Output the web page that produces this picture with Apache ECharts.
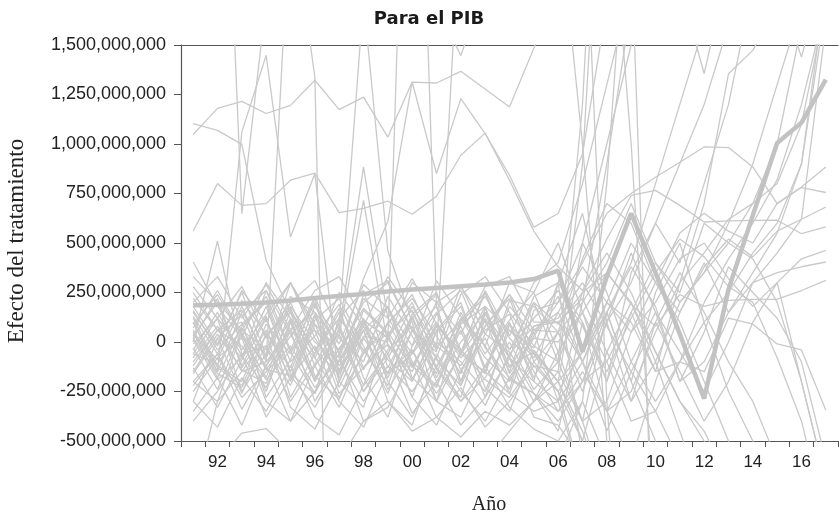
<!DOCTYPE html>
<html>
<head>
<meta charset="utf-8">
<script src="https://cdn.jsdelivr.net/npm/echarts@6/dist/echarts.min.js"></script>
<style>html,body{margin:0;padding:0;background:#fff}#chart{width:839px;height:517px}</style>
</head>
<body>
<div id="chart"></div>
<script>
// Values in millions (multiplied by 1e6 only for the axis labels)
const years = ['1991','1992','1993','1994','1995','1996','1997','1998','1999','2000','2001','2002','2003','2004','2005','2006','2007','2008','2009','2010','2011','2012','2013','2014','2015','2016','2017'];
const treated = [185,188,193,200,210,222,232,243,255,265,273,282,290,300,318,360,-50,330,650,350,40,-286,266,640,1005,1108,1325];

const pA = [1048,1180,1215,1154,1195,1322,1174,1237,1035,1313,1308,1367,1278,1187,1483,1800,2300,2600,2400,2800,3000,2900,3100,3300,3500,3600,3800];
const pB = [1103,1069,998,412,150,-40,-160,110,20,-190,50,180,-130,90,-60,-250,-700,-1000,-1300,-1500,-1700,-1900,-2100,-2300,-2500,-2700,-2900];
const pC = [559,800,690,699,817,853,653,675,711,645,736,943,1055,817,560,380,260,520,740,766,690,606,612,614,615,547,581];
const pD = [-60,-110,70,-140,30,190,-60,320,610,1313,850,1229,1052,842,580,649,950,1700,2200,2600,2800,3000,3200,3400,3500,3600,3700];
const pE = [100,-150,1060,1448,530,850,-200,100,-180,60,-130,120,-80,-200,50,-300,200,900,1700,2200,2600,2800,3000,3200,3300,3400,3500];
const pG = [-150,40,-140,-210,110,-190,60,-140,100,-120,-230,90,180,-160,30,200,400,650,750,832,908,985,982,884,699,783,884];
const pK = [20,220,-130,60,-180,130,-140,80,-160,140,250,-60,-150,210,180,50,-200,-100,150,-150,300,700,1355,1473,1700,1900,2100];
const pV1 = [1900,2100,2300,2500,2600,2700,2800,2900,3000,3100,3200,3300,3400,3500,3600,3200,2500,2000,1800,1700,1800,1355,1900,2200,2400,2500,2600];
const pV2 = [-1000,-1200,-1400,-1600,-1800,-2000,-1800,-1500,-1200,-900,-1100,-1300,-1000,-800,-700,-600,-300,800,2500,3000,3200,3000,2800,2500,1800,1439,1900];
const pS1 = [2800,3600,648,1726,2500,3000,3200,3400,3500,3600,3700,3800,3900,4000,4000,3500,2500,-300,-2000,-3000,-3500,-3500,-3000,-2500,-2000,-1500,-1000];
const pS2 = [-800,-300,-150,-100,2219,1340,-4000,-3000,-2000,-1500,-1000,-800,-600,-450,-300,-150,900,3000,4000,4200,4400,4500,4600,4700,4800,4900,5000];
const pS3 = [-200,-300,50,-250,100,-200,100,1728,461,100,-300,-50,250,-80,-200,300,-600,-2500,-3000,-3200,-3400,-3500,-3600,-3700,-3800,-3900,-4000];
const pS4 = [50,-180,80,200,-150,140,-230,30,0,3950,181,-200,150,-150,200,-100,1200,3500,2000,-1500,-2500,-2800,-3000,-3200,-3400,-3600,-3800];
const pS5 = [180,-10,250,-70,300,20,-160,240,310,60,-50,2230,2500,2800,3000,3000,2800,2500,1000,-1000,-2000,-2500,-2800,-3000,-3200,-3400,-3600];
const pS6 = [1800,2200,2500,2700,2900,2500,2100,1800,1700,1650,1700,1447,1800,2200,2500,2200,1000,-500,-1200,-1500,-1800,-2000,-2200,-2400,-2600,-2800,-3000];
const pL01 = [404,180,20,300,120,-60,250,80,330,150,-40,280,100,-80,230,300,100,-200,150,400,250,600,500,700,800,1100,1700];
const pL02 = [150,-20,260,100,300,60,-80,220,120,-60,200,280,40,240,60,50,420,700,600,300,150,380,520,430,560,620,682];
const pL03 = [120,-120,-200,90,-60,200,-150,60,180,-100,-220,100,230,20,-120,-150,-400,-300,50,200,420,500,320,180,300,420,463];
const pL04 = [90,240,30,-180,160,-40,120,260,-130,120,240,-40,-160,180,40,230,-100,150,380,180,-200,-100,150,300,350,380,404];
const pL05 = [60,-150,150,260,40,-190,70,-220,100,220,30,-160,140,-40,200,90,250,350,190,80,240,180,210,215,216,260,311];
const pL06 = [30,200,-120,120,-200,110,220,-20,-260,60,180,-200,80,240,-60,-200,-50,200,100,-150,-100,-150,120,90,-10,-40,-345];
const pL07 = [0,510,-60,-20,-220,90,-180,160,40,-280,60,200,-150,-260,80,120,300,80,-150,-350,-600,-900,-1200,-1500,-1800,-2000,-2200];
const pL08 = [-30,-240,60,230,-50,-260,120,-40,-220,120,-180,60,-280,90,-200,-300,-700,-1100,-1500,-1800,-2000,-2200,-2400,-2600,-2800,-3000,-3200];
const pL09 = [-60,120,-250,-60,200,-80,-280,-60,180,-180,-300,120,-20,-240,160,200,500,1000,1500,1900,2200,2500,2700,2900,3100,3300,3500];
const pL10 = [-100,60,100,-280,-90,220,-200,-330,40,160,-130,-280,120,-80,-300,-50,150,-100,-400,-350,-100,100,250,450,600,900,1800];
const pL11 = [-130,-330,-90,130,-280,-60,170,-180,-380,-20,150,-140,-320,-60,80,100,-100,-350,-250,50,300,450,620,700,1000,1600,2000];
const pL12 = [-200,-60,-340,-120,60,-300,-90,120,-200,-380,-120,80,-230,-350,-40,-200,-450,-800,-1000,-1200,-1400,-1600,-1800,-2000,-2200,-2400,-2600];
const pL13 = [-250,-80,20,-300,-400,-120,-330,-40,40,-280,-420,-140,20,-260,-350,-300,-100,200,500,300,100,-200,-500,-800,-1000,-1200,-1400];
const pL14 = [-300,-430,-180,-350,-120,-380,-470,-220,-60,-360,-200,-420,-280,-80,-380,-420,-600,-900,-1100,-1300,-1500,-1700,-1900,-2100,-2300,-2500,-2700];
const pL15 = [-350,-180,-420,-120,-400,-250,-60,-400,-330,-100,-380,-230,-430,-300,-120,-250,-50,150,-200,-500,-800,-1000,-1200,-1400,-1600,-1800,-2000];
const pL16 = [200,330,120,290,60,260,330,110,20,300,200,40,280,330,100,100,220,-50,-300,-100,200,350,500,420,200,-200,-700];
const pL17 = [-10,120,280,20,200,310,60,884,120,320,90,-60,260,30,300,400,800,1300,1800,2200,2500,2800,3000,3200,3400,3600,3800];
const pL18 = [70,260,40,-120,120,-200,30,715,-20,-150,140,260,-30,-180,-260,-400,-200,100,300,600,900,1200,1600,2000,2400,2800,3200];
const pL19 = [20,-160,-230,-20,-300,-110,90,-250,-80,130,-140,-300,-120,100,-180,50,200,400,700,400,200,350,600,900,1300,1700,2000];
const pL20 = [-160,20,140,-140,-170,-330,-100,60,-240,-40,-260,-60,110,-190,-260,-350,-200,150,400,800,1200,1600,2000,2400,2800,3200,3600];
const pL21 = [250,60,-80,260,-40,230,-60,200,300,60,-80,240,330,150,-20,-100,-400,-800,-1200,-1600,-2000,-2400,-2800,-3200,-3600,-4000,-4400];
const pL22 = [-400,-250,-60,-380,-180,-20,-300,-430,-150,-40,-300,-380,-120,-330,-440,-500,-300,-600,-900,-1200,-1500,-1800,-2100,-2400,-2700,-3000,-3300];
const pL23 = [-300,20,-260,40,-330,-440,-200,60,-300,-420,-60,-250,-400,-180,20,0,150,350,200,-50,-300,-500,-700,-900,-1100,-1300,-1500];
const pL24 = [100,-130,-220,40,150,-170,-290,20,180,-120,90,-220,170,-130,60,150,380,200,50,300,550,650,560,500,700,780,755];
const pL26 = [-700,-600,-460,-437,-560,-700,-600,-400,-300,-450,-380,-480,-350,-420,-300,-200,-500,-900,-1300,-1700,-2000,-2300,-2600,-2900,-3200,-3500,-3800];
const pL27 = [160,-40,90,210,-100,30,190,-60,90,240,-30,110,250,-40,120,260,80,-150,120,350,520,430,280,200,-80,-400,-900];
const pL28 = [-80,80,-150,30,170,-120,40,-250,-40,80,-200,0,150,-120,-50,-200,500,250,-100,-300,-100,200,420,600,820,1200,1700];
const pL29 = [40,-90,180,-100,60,150,-120,20,-160,-60,100,-80,60,140,-150,-350,-150,-350,-100,150,-50,-250,0,300,450,620,1600];
const pL30 = [-220,-60,-280,-150,-20,-230,-90,-300,-120,-250,-80,-300,-180,0,-240,-100,250,450,250,-50,-300,-450,-700,-1000,-1300,-1600,-1900];
const pL31 = [220,60,160,-80,180,0,-100,100,-60,180,-20,-120,80,220,-100,50,-250,100,450,150,-200,50,380,250,120,-100,-600];
const pL32 = [130,-60,210,40,-130,180,20,-100,230,30,-160,150,-60,110,250,-50,-400,150,-200,250,500,100,-250,-500,-800,-1000,-1200];
const pL33 = [-40,150,-70,-230,60,-80,150,-130,20,200,-90,-220,40,-50,-260,-450,100,-350,-600,-200,150,400,150,350,550,900,1700];
const pL34 = [280,120,-40,140,300,90,-40,170,50,-130,80,-60,180,60,-80,150,-100,-450,-150,100,350,150,-100,-300,-600,-900,-1200];
const pL35 = [-120,60,-20,-190,-40,60,-260,-130,-10,-190,0,-100,-250,60,-30,300,650,100,-300,100,-150,-400,-200,100,300,-200,-700];
const pL36 = [10,-190,-80,180,-160,-260,-30,110,-90,-200,80,-40,-190,-280,-100,-250,-500,-50,200,-100,-450,-800,-1100,-1400,-1700,-2000,-2300];
const pL37 = [330,200,60,-40,230,150,-10,290,170,-20,310,130,-20,300,250,500,150,-200,350,600,400,800,1200,1800,2200,2600,3000];

const placebos = [pA,pB,pC,pD,pE,pG,pK,pV1,pV2,pS1,pS2,pS3,pS4,pS5,pS6,
  pL01,pL02,pL03,pL04,pL05,pL06,pL07,pL08,pL09,pL10,pL11,pL12,pL13,pL14,pL15,pL16,pL17,pL18,pL19,pL20,pL21,pL22,pL23,pL24,pL26,
  pL27,pL28,pL29,pL30,pL31,pL32,pL33,pL34,pL35,pL36,pL37];

const yMin = -500, yMax = 1500, yStep = 250;

const series = placebos.map((d, i) => ({
  type: 'line', name: 'placebo' + i, data: d, showSymbol: false, symbol: 'none',
  lineStyle: { color: '#c9c9c9', width: 1.3 }, clip: true, silent: true, z: 2
}));
series.push({
  type: 'line', name: 'tratado', data: treated, showSymbol: false, symbol: 'none',
  lineStyle: { color: '#c2c2c2', width: 4.5 }, clip: true, silent: true, z: 3
});

const chart = echarts.init(document.getElementById('chart'), null, { renderer: 'canvas' });
chart.setOption({
  animation: false,
  backgroundColor: '#ffffff',
  title: {
    text: 'Para el PIB', left: 424, top: 5, textAlign: 'center',
    textStyle: { fontFamily: 'DejaVu Sans', fontWeight: 'bold', fontSize: 18, color: '#1a1a1a' }
  },
  grid: { left: 181, right: 1, top: 45, bottom: 76, containLabel: false },
  xAxis: [{
    type: 'category', data: years, boundaryGap: true, position: 'bottom',
    axisLine: { onZero: false, lineStyle: { color: '#555', width: 1.2 } },
    axisTick: { show: true, interval: 0, length: 6, alignWithLabel: false, lineStyle: { color: '#555' } },
    axisLabel: {
      interval: (i) => i % 2 === 1, formatter: (v) => v.slice(2), margin: 13,
      fontFamily: 'Liberation Sans', fontSize: 17, color: '#222'
    },
    splitLine: { show: false }
  }, {
    type: 'category', data: years, position: 'top',
    axisLine: { onZero: false, lineStyle: { color: '#555', width: 1.2 } },
    axisTick: { show: false }, axisLabel: { show: false }, splitLine: { show: false }
  }],
  yAxis: {
    type: 'value', min: yMin, max: yMax, interval: yStep,
    axisLine: { show: true, onZero: false, lineStyle: { color: '#555', width: 1.2 } },
    axisTick: { show: true, length: 7, lineStyle: { color: '#555' } },
    axisLabel: {
      formatter: (v) => (v * 1e6).toLocaleString('en-US'), margin: 15,
      fontFamily: 'Liberation Sans', fontSize: 18, color: '#222'
    },
    splitLine: { show: false }
  },
  graphic: [{
    type: 'text', x: 17, y: 241, rotation: Math.PI / 2,
    style: { text: 'Efecto del tratamiento', font: '23px "Liberation Serif"', fill: '#222', textAlign: 'center', textVerticalAlign: 'middle' }
  }, {
    type: 'text', x: 489, y: 505,
    style: { text: 'Año', font: '20px "Liberation Serif"', fill: '#222', textAlign: 'center', textVerticalAlign: 'middle' }
  }],
  series: series
});
</script>
</body>
</html>
